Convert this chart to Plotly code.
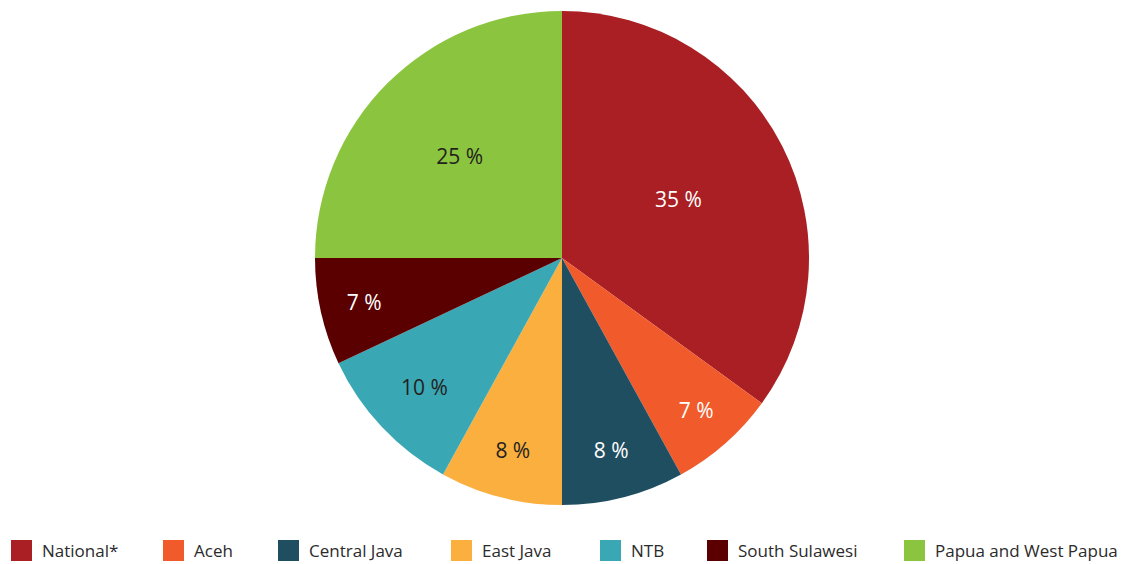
import plotly.graph_objects as go

# Share of the total by region
regions = ["National*", "Aceh", "Central Java", "East Java", "NTB",
           "South Sulawesi", "Papua and West Papua"]
shares = [35, 7, 8, 8, 10, 7, 25]

slice_colors = ["#A91F23", "#F15A2B", "#1F4E61", "#FBAF3F", "#3AA7B4",
                "#5A0000", "#8BC53F"]
label_colors = ["#FFFFFF", "#FFFFFF", "#FFFFFF", "#231F20", "#231F20",
                "#FFFFFF", "#231F20"]

W, H = 1128, 564
cx, cy, r = 562, 258, 247  # pie centre and radius in px

fig = go.Figure(go.Pie(
    labels=regions,
    values=shares,
    sort=False,
    direction="clockwise",
    rotation=0,
    marker=dict(colors=slice_colors, line=dict(width=0)),
    texttemplate="%{value} %",
    textposition="inside",
    insidetextorientation="horizontal",
    textfont=dict(family="Open Sans", size=21, color=label_colors),
    hoverinfo="label+percent",
    showlegend=False,
    domain=dict(x=[(cx - r) / W, (cx + r) / W],
                y=[(H - cy - r) / H, (H - cy + r) / H]),
))

# Legend row along the bottom: a colour swatch followed by the region name
legend_left = [11, 163, 278, 451, 600, 707, 904]  # swatch left edges, px
swatch = 21
legend_mid_y = 550.5
shapes, annotations = [], []
for name, colour, x0 in zip(regions, slice_colors, legend_left):
    shapes.append(dict(
        type="rect", xref="paper", yref="paper",
        x0=x0 / W, x1=(x0 + swatch) / W,
        y0=(H - legend_mid_y - swatch / 2) / H,
        y1=(H - legend_mid_y + swatch / 2) / H,
        fillcolor=colour, line=dict(width=0),
    ))
    annotations.append(dict(
        text=name, xref="paper", yref="paper",
        x=(x0 + 29) / W, y=(H - legend_mid_y) / H,
        xanchor="left", yanchor="middle", showarrow=False,
        font=dict(family="Open Sans", size=17, color="#2B2B2B"),
    ))

fig.update_layout(
    width=W, height=H,
    margin=dict(l=0, r=0, t=0, b=0),
    paper_bgcolor="white",
    font=dict(family="Open Sans", color="#2B2B2B"),
    shapes=shapes,
    annotations=annotations,
)

fig.write_html("out.html")
